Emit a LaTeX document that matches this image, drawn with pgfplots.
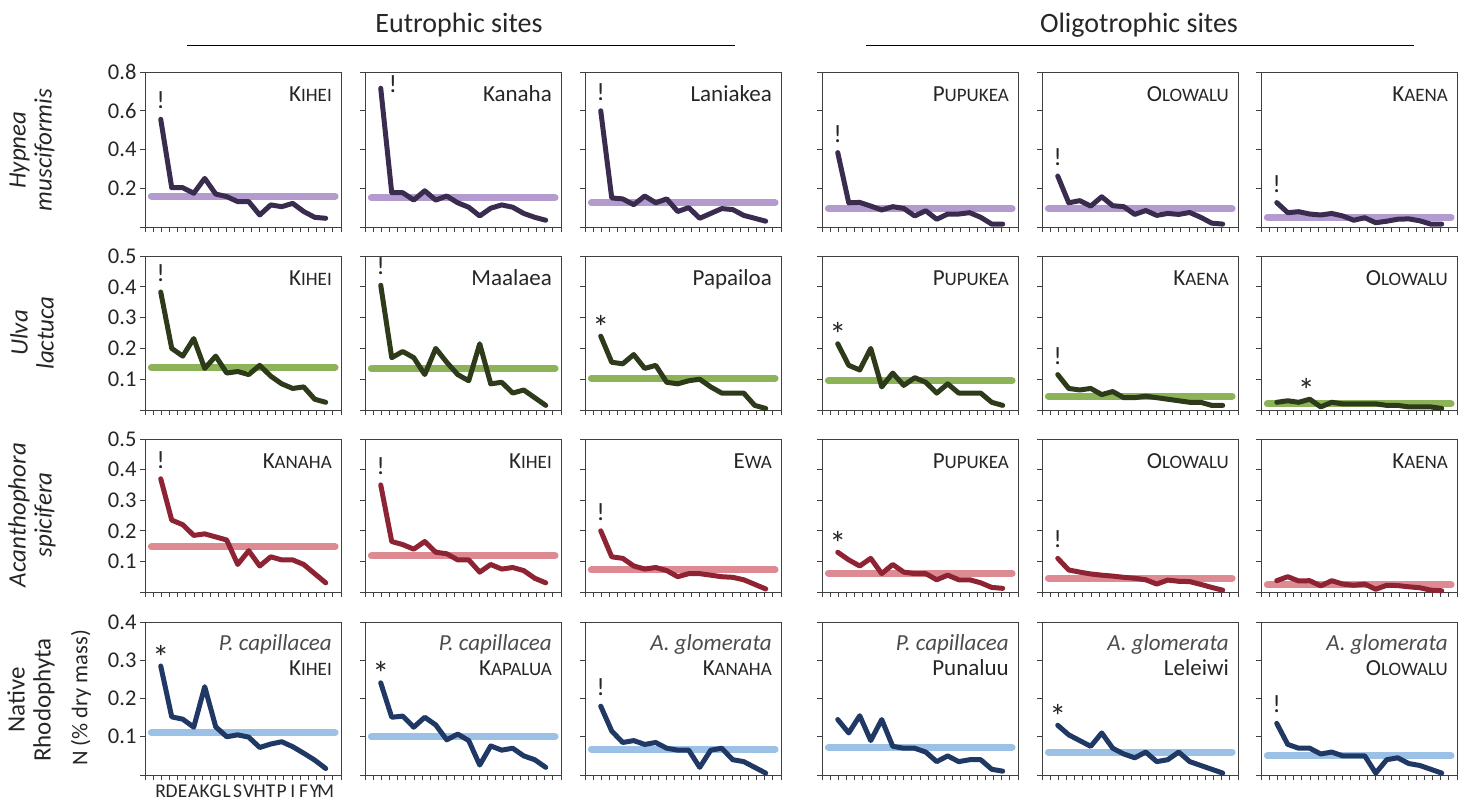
\documentclass[border=0pt]{standalone}
\usepackage{pgfplots}
\pgfplotsset{compat=1.18}
\usepackage{pgfplotstable}
\usepackage{fontspec}
\setmainfont{Carlito}

\definecolor{txt}{HTML}{262626}
\definecolor{hypd}{HTML}{3A2C4F}
\definecolor{hypm}{HTML}{B49BCF}
\definecolor{ulvd}{HTML}{2E3B1B}
\definecolor{ulvm}{HTML}{8CB358}
\definecolor{acad}{HTML}{8E2433}
\definecolor{acam}{HTML}{DE8A92}
\definecolor{natd}{HTML}{1F3864}
\definecolor{natm}{HTML}{9BC2E6}

\pgfplotstableread{
i c1 c2 c3 c4 c5 c6
0 0.556 0.716 0.600 0.384 0.263 0.126
1 0.203 0.177 0.150 0.125 0.125 0.074
2 0.203 0.177 0.145 0.127 0.136 0.079
3 0.174 0.139 0.115 0.108 0.108 0.067
4 0.251 0.187 0.160 0.088 0.156 0.062
5 0.170 0.139 0.125 0.105 0.110 0.070
6 0.157 0.160 0.145 0.096 0.105 0.057
7 0.131 0.125 0.080 0.057 0.065 0.035
8 0.131 0.102 0.100 0.084 0.085 0.048
9 0.062 0.057 0.045 0.040 0.060 0.022
10 0.114 0.097 0.070 0.067 0.070 0.030
11 0.105 0.114 0.095 0.067 0.065 0.040
12 0.122 0.102 0.090 0.074 0.075 0.042
13 0.080 0.070 0.060 0.050 0.050 0.032
14 0.050 0.050 0.045 0.015 0.020 0.015
15 0.045 0.035 0.030 0.015 0.015 0.015
}\tabA

\pgfplotstableread{
i c1 c2 c3 c4 c5 c6
0 0.383 0.405 0.240 0.215 0.115 0.025
1 0.200 0.170 0.155 0.145 0.070 0.030
2 0.175 0.190 0.150 0.130 0.065 0.025
3 0.232 0.170 0.180 0.200 0.070 0.035
4 0.135 0.115 0.135 0.075 0.050 0.010
5 0.175 0.200 0.145 0.120 0.060 0.025
6 0.120 0.155 0.090 0.080 0.040 0.020
7 0.125 0.115 0.085 0.105 0.040 0.020
8 0.115 0.095 0.095 0.090 0.045 0.020
9 0.145 0.215 0.100 0.055 0.040 0.020
10 0.110 0.085 0.075 0.085 0.035 0.015
11 0.085 0.090 0.055 0.055 0.030 0.015
12 0.070 0.055 0.055 0.055 0.025 0.010
13 0.075 0.065 0.055 0.055 0.025 0.010
14 0.035 0.040 0.015 0.025 0.015 0.010
15 0.025 0.015 0.005 0.015 0.015 0.005
}\tabB

\pgfplotstableread{
i c1 c2 c3 c4 c5 c6
0 0.370 0.350 0.200 0.130 0.110 0.037
1 0.235 0.165 0.115 0.105 0.072 0.050
2 0.220 0.155 0.110 0.085 0.065 0.036
3 0.185 0.140 0.085 0.110 0.059 0.037
4 0.190 0.165 0.075 0.060 0.055 0.020
5 0.180 0.130 0.080 0.090 0.052 0.037
6 0.170 0.125 0.070 0.065 0.048 0.026
7 0.090 0.105 0.050 0.060 0.045 0.022
8 0.135 0.105 0.060 0.060 0.040 0.026
9 0.085 0.065 0.060 0.040 0.026 0.009
10 0.115 0.090 0.055 0.055 0.039 0.022
11 0.105 0.075 0.050 0.040 0.035 0.021
12 0.105 0.080 0.048 0.040 0.034 0.017
13 0.090 0.070 0.040 0.030 0.025 0.014
14 0.060 0.045 0.025 0.015 0.015 0.006
15 0.030 0.030 0.010 0.012 0.006 0.004
}\tabC

\pgfplotstableread{
i c1 c2 c3 c4 c5 c6
0 0.285 0.241 0.180 0.145 0.130 0.135
1 0.152 0.151 0.115 0.110 0.105 0.080
2 0.146 0.154 0.085 0.155 0.090 0.070
3 0.125 0.125 0.090 0.090 0.075 0.070
4 0.231 0.151 0.080 0.145 0.110 0.055
5 0.126 0.131 0.085 0.075 0.070 0.060
6 0.100 0.092 0.070 0.070 0.055 0.050
7 0.105 0.107 0.065 0.070 0.045 0.050
8 0.099 0.090 0.065 0.060 0.060 0.050
9 0.072 0.026 0.020 0.035 0.035 0.005
10 0.081 0.076 0.065 0.050 0.040 0.040
11 0.087 0.065 0.070 0.035 0.060 0.045
12 0.074 0.070 0.040 0.040 0.035 0.030
13 0.057 0.050 0.035 0.040 0.025 0.025
14 0.039 0.040 0.020 0.015 0.015 0.015
15 0.017 0.020 0.005 0.010 0.005 0.005
}\tabD

\newcommand{\SC}[2]{#1{\fontsize{19}{19}\selectfont #2}}

\pgfplotsset{
  panel/.style={width=196pt, scale only axis, anchor=south west,
    xmin=-1.43, xmax=16.39,
    xtick={-1.43,-0.6875,...,16.40}, xticklabels={},
    tick align=outside, tick pos=left, major tick length=5pt,
    axis line style={black!75, line width=0.9pt},
    every tick/.style={black!75, line width=0.9pt},
    yticklabel style={font=\fontsize{22.5}{22.5}\selectfont, text=txt},
    clip=false},
  rowA/.style={height=155pt, ymin=0, ymax=0.8, ytick={0,0.2,0.4,0.6,0.8}, yticklabels={}},
  rowB/.style={height=154pt, ymin=0, ymax=0.5, ytick={0,0.1,0.2,0.3,0.4,0.5}, yticklabels={}},
  rowC/.style={height=153pt, ymin=0, ymax=0.5, ytick={0,0.1,0.2,0.3,0.4,0.5}, yticklabels={}},
  rowD/.style={height=153pt, ymin=0, ymax=0.4, ytick={0,0.1,0.2,0.3,0.4}, yticklabels={}},
  meanline/.style={line width=7pt, line cap=round},
  dataline/.style={line width=5pt, line join=round, line cap=round},
}
\tikzset{
  site/.style={anchor=base east, inner sep=0pt, text=txt, font=\fontsize{23}{23}\selectfont},
  spec/.style={anchor=base east, inner sep=0pt, text=black!70, font=\fontsize{23}{23}\selectfont\itshape},
  mk/.style={anchor=base, inner sep=0pt, yshift=10.5pt, text=txt, font=\fontsize{25}{25}\selectfont},
  st/.style={anchor=base, inner sep=0pt, yshift=-3pt, text=txt, font=\fontsize{34}{34}\selectfont},
}

\newcommand{\panel}[8]{%
\begin{axis}[panel,#1,at={(#2pt,-#3pt)}]
\addplot[meanline,color=#5m] coordinates {(-0.85,#6) (15.85,#6)};
\addplot[dataline,color=#5d] table[x=i,y=#4]{#7};
#8
\end{axis}}

\newcommand{\sitelab}[1]{\node[site] at ([xshift=-9pt,yshift=-29.5pt]rel axis cs:1,1) {#1};}
\newcommand{\twolab}[2]{\node[spec] at ([xshift=-9pt,yshift=-28pt]rel axis cs:1,1) {#1};
\node[site] at ([xshift=-9pt,yshift=-53pt]rel axis cs:1,1) {#2};}

\begin{document}
\begin{tikzpicture}
\path[use as bounding box] (0,0) rectangle (1467pt,-801pt);

% headers
\node[anchor=base, inner sep=0pt, text=txt, font=\fontsize{28}{28}\selectfont] at (459pt,-32.3pt) {Eutrophic sites};
\node[anchor=base, inner sep=0pt, text=txt, font=\fontsize{28}{28}\selectfont] at (1139pt,-32.3pt) {Oligotrophic sites};
\draw[line width=1.4pt] (187pt,-45.5pt) -- (735pt,-45.5pt);
\draw[line width=1.4pt] (866pt,-45.5pt) -- (1414pt,-45.5pt);

% row labels
\node[rotate=90, align=center, text=txt, font=\fontsize{25}{26}\selectfont\itshape] at (32pt,-150pt) {Hypnea\\musciformis};
\node[rotate=90, align=center, text=txt, font=\fontsize{25}{26}\selectfont\itshape] at (32pt,-333pt) {Ulva\\lactuca};
\node[rotate=90, align=center, text=txt, font=\fontsize{25}{26}\selectfont\itshape] at (32pt,-515pt) {Acanthophora\\spicifera};
\node[rotate=90, align=center, text=txt, font=\fontsize{25}{26}\selectfont] at (31pt,-700pt) {Native\\Rhodophyta};
\node[rotate=90, text=txt, font=\fontsize{22.5}{22.5}\selectfont] at (81pt,-698pt) {N (\% dry mass)};

% ---------- Row A: Hypnea
\panel{rowA, yticklabels={{},0.2,0.4,0.6,0.8}}{145}{227}{c1}{hyp}{0.160}{\tabA}{%
 \sitelab{\SC{K}{IHEI}} \node[mk] at (axis cs:0,0.556) {!};}
\panel{rowA}{365}{227}{c2}{hyp}{0.151}{\tabA}{%
 \sitelab{Kanaha} \node[mk, yshift=0pt] at (axis cs:1.1,0.64) {!};}
\panel{rowA}{585}{227}{c3}{hyp}{0.125}{\tabA}{%
 \sitelab{Laniakea} \node[mk] at (axis cs:0,0.600) {!};}
\panel{rowA}{822}{227}{c4}{hyp}{0.095}{\tabA}{%
 \sitelab{\SC{P}{UPUKEA}} \node[mk] at (axis cs:0,0.384) {!};}
\panel{rowA}{1042}{227}{c5}{hyp}{0.095}{\tabA}{%
 \sitelab{\SC{O}{LOWALU}} \node[mk] at (axis cs:0,0.263) {!};}
\panel{rowA}{1261}{227}{c6}{hyp}{0.050}{\tabA}{%
 \sitelab{\SC{K}{AENA}} \node[mk] at (axis cs:0,0.126) {!};}

% ---------- Row B: Ulva
\panel{rowB, yticklabels={{},0.1,0.2,0.3,0.4,0.5}}{145}{410}{c1}{ulv}{0.138}{\tabB}{%
 \sitelab{\SC{K}{IHEI}} \node[mk] at (axis cs:0,0.383) {!};}
\panel{rowB}{365}{410}{c2}{ulv}{0.135}{\tabB}{%
 \sitelab{Maalaea} \node[mk] at (axis cs:0,0.405) {!};}
\panel{rowB}{585}{410}{c3}{ulv}{0.103}{\tabB}{%
 \sitelab{Papailoa} \node[st] at (axis cs:0,0.240) {*};}
\panel{rowB}{822}{410}{c4}{ulv}{0.095}{\tabB}{%
 \sitelab{\SC{P}{UPUKEA}} \node[st] at (axis cs:0,0.215) {*};}
\panel{rowB}{1042}{410}{c5}{ulv}{0.045}{\tabB}{%
 \sitelab{\SC{K}{AENA}} \node[mk] at (axis cs:0,0.115) {!};}
\panel{rowB}{1261}{410}{c6}{ulv}{0.020}{\tabB}{%
 \sitelab{\SC{O}{LOWALU}} \node[st] at (axis cs:2.7,0.035) {*};}

% ---------- Row C: Acanthophora
\panel{rowC, yticklabels={{},0.1,0.2,0.3,0.4,0.5}}{145}{592}{c1}{aca}{0.148}{\tabC}{%
 \sitelab{\SC{K}{ANAHA}} \node[mk] at (axis cs:0,0.370) {!};}
\panel{rowC}{365}{592}{c2}{aca}{0.118}{\tabC}{%
 \sitelab{\SC{K}{IHEI}} \node[mk] at (axis cs:0,0.350) {!};}
\panel{rowC}{585}{592}{c3}{aca}{0.072}{\tabC}{%
 \sitelab{\SC{E}{WA}} \node[mk] at (axis cs:0,0.200) {!};}
\panel{rowC}{822}{592}{c4}{aca}{0.062}{\tabC}{%
 \sitelab{\SC{P}{UPUKEA}} \node[st] at (axis cs:0,0.130) {*};}
\panel{rowC}{1042}{592}{c5}{aca}{0.045}{\tabC}{%
 \sitelab{\SC{O}{LOWALU}} \node[mk] at (axis cs:0,0.110) {!};}
\panel{rowC}{1261}{592}{c6}{aca}{0.023}{\tabC}{%
 \sitelab{\SC{K}{AENA}}}

% ---------- Row D: Native Rhodophyta
\panel{rowD, yticklabels={{},0.1,0.2,0.3,0.4},
  extra x ticks={0,1,...,15},
  extra x tick labels={R,D,E,A,K,G,L,S,V,H,T,P,I,F,Y,M},
  extra x tick style={major tick length=0pt, tick label style={font=\fontsize{19.5}{19.5}\selectfont, text=txt, inner sep=0pt, anchor=base, yshift=-22pt}}}{145}{775}{c1}{nat}{0.111}{\tabD}{%
 \twolab{P. capillacea}{\SC{K}{IHEI}} \node[st] at (axis cs:0,0.285) {*};}
\panel{rowD}{365}{775}{c2}{nat}{0.100}{\tabD}{%
 \twolab{P. capillacea}{\SC{K}{APALUA}} \node[st] at (axis cs:0,0.241) {*};}
\panel{rowD}{585}{775}{c3}{nat}{0.068}{\tabD}{%
 \twolab{A. glomerata}{\SC{K}{ANAHA}} \node[mk] at (axis cs:0,0.180) {!};}
\panel{rowD}{822}{775}{c4}{nat}{0.072}{\tabD}{%
 \twolab{P. capillacea}{Punaluu}}
\panel{rowD}{1042}{775}{c5}{nat}{0.060}{\tabD}{%
 \twolab{A. glomerata}{Leleiwi} \node[st] at (axis cs:0,0.130) {*};}
\panel{rowD}{1261}{775}{c6}{nat}{0.050}{\tabD}{%
 \twolab{A. glomerata}{\SC{O}{LOWALU}} \node[mk] at (axis cs:0,0.135) {!};}

\end{tikzpicture}
\end{document}
